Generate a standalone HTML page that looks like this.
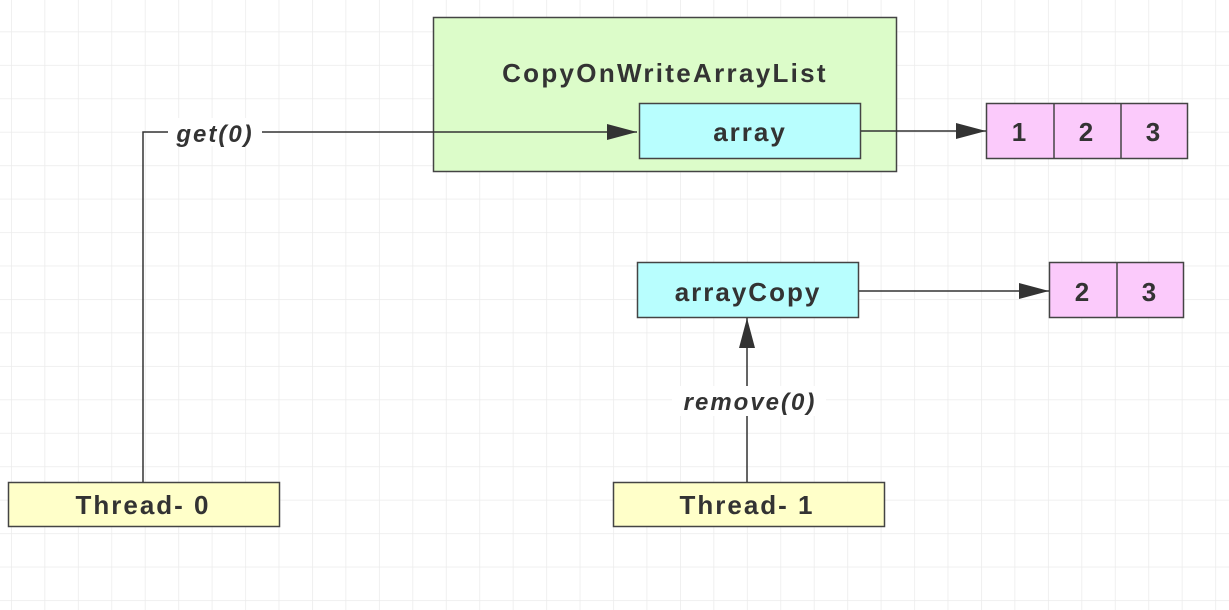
<!DOCTYPE html>
<html><head><meta charset="utf-8"><style>
html,body{margin:0;padding:0;background:#fff;}
svg{display:block;}
text{font-family:"Liberation Sans","DejaVu Sans",sans-serif;font-weight:bold;fill:#333;letter-spacing:2px;}
</style></head><body>
<svg width="1229" height="610" viewBox="0 0 1229 610" xmlns="http://www.w3.org/2000/svg">
<defs>
<pattern id="g" x="11" y="-2" width="33.45" height="33.45" patternUnits="userSpaceOnUse">
<path d="M0 0V33.45M0 0H33.45" stroke="#ebebeb" stroke-width="1.5" fill="none"/>
</pattern>
<marker id="b" markerWidth="30" markerHeight="16" refX="30" refY="8" orient="auto" markerUnits="userSpaceOnUse">
<path d="M0 0L30 8L0 16Z" fill="#333"/>
</marker>
</defs>
<rect width="1229" height="610" fill="url(#g)"/>
<rect x="433.5" y="17.5" width="463" height="154" fill="#dcfcc9" stroke="#444" stroke-width="1.5"/>
<text x="665" y="82" font-size="26" text-anchor="middle" style="letter-spacing:2.3px">CopyOnWriteArrayList</text>
<rect x="639.5" y="103.5" width="221" height="55" fill="#b8fefe" stroke="#444" stroke-width="1.5"/>
<text x="750" y="141" font-size="26" text-anchor="middle">array</text>
<rect x="986.5" y="103.5" width="201" height="55" fill="#fbcafb" stroke="#444" stroke-width="1.5"/>
<line x1="1054" y1="103" x2="1054" y2="159" stroke="#444" stroke-width="1.5"/>
<line x1="1121" y1="103" x2="1121" y2="159" stroke="#444" stroke-width="1.5"/>
<text x="1020" y="141" font-size="26" text-anchor="middle">1</text>
<text x="1087" y="141" font-size="26" text-anchor="middle">2</text>
<text x="1154" y="141" font-size="26" text-anchor="middle">3</text>
<rect x="637.5" y="262.5" width="221" height="55" fill="#b8fefe" stroke="#444" stroke-width="1.5"/>
<text x="748" y="301" font-size="26" text-anchor="middle">arrayCopy</text>
<rect x="1049.5" y="262.5" width="134" height="55" fill="#fbcafb" stroke="#444" stroke-width="1.5"/>
<line x1="1117" y1="262" x2="1117" y2="318" stroke="#444" stroke-width="1.5"/>
<text x="1083" y="301" font-size="26" text-anchor="middle">2</text>
<text x="1150" y="301" font-size="26" text-anchor="middle">3</text>
<rect x="8.5" y="482.5" width="271" height="44" fill="#ffffc9" stroke="#444" stroke-width="1.5"/>
<text x="143" y="514" font-size="26" text-anchor="middle">Thread- 0</text>
<rect x="613.5" y="482.5" width="271" height="44" fill="#ffffc9" stroke="#444" stroke-width="1.5"/>
<text x="747" y="514" font-size="26" text-anchor="middle">Thread- 1</text>
<path d="M143 482V132H637" fill="none" stroke="#333" stroke-width="1.5" marker-end="url(#b)"/>
<rect x="168" y="118" width="94" height="28" fill="#fff"/>
<text x="215" y="142" font-size="24" font-style="italic" text-anchor="middle">get(0)</text>
<line x1="861" y1="131" x2="986" y2="131" stroke="#333" stroke-width="1.5" marker-end="url(#b)"/>
<line x1="859" y1="291" x2="1049" y2="291" stroke="#333" stroke-width="1.5" marker-end="url(#b)"/>
<line x1="747" y1="482" x2="747" y2="318" stroke="#333" stroke-width="1.5" marker-end="url(#b)"/>
<rect x="672" y="386" width="154" height="30" fill="#fff"/>
<text x="750" y="410" font-size="24" font-style="italic" text-anchor="middle">remove(0)</text>
</svg>
</body></html>
